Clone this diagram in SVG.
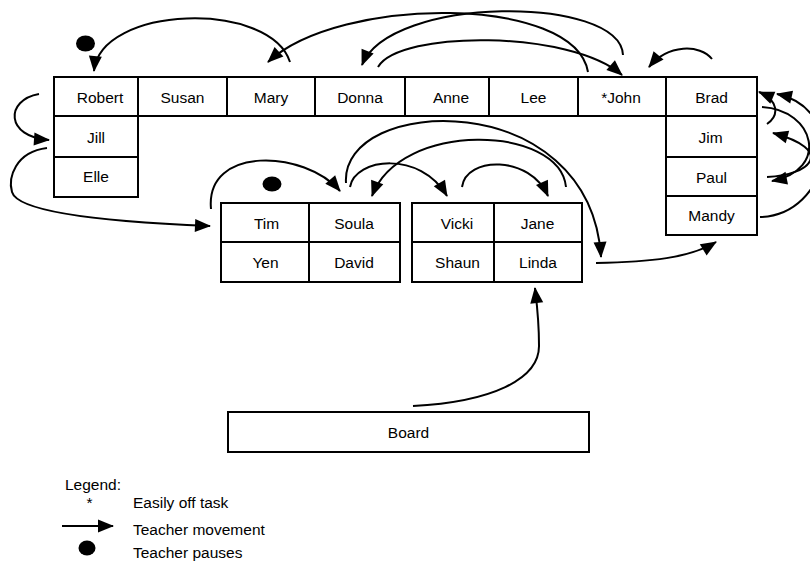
<svg xmlns="http://www.w3.org/2000/svg" width="810" height="565" viewBox="0 0 810 565">
<style>
.cell{fill:#fff;stroke:#000;stroke-width:2}
.t{font-family:"Liberation Sans",Arial,sans-serif;font-size:15.5px;fill:#000;text-anchor:middle}
.tl{font-family:"Liberation Sans",Arial,sans-serif;font-size:15.5px;fill:#000}
.c{fill:none;stroke:#000;stroke-width:2;marker-end:url(#ah)}
.dot{fill:#000}
</style>
<defs>
<marker id="ah" markerUnits="userSpaceOnUse" markerWidth="16" markerHeight="13" refX="15" refY="6.5" orient="auto" overflow="visible">
<path d="M0,0 L16,6.5 L0,13 z" fill="#000"/>
</marker>
</defs>
<rect width="810" height="565" fill="#fff"/>
<g id="robert"><rect class="cell" x="54" y="77" width="84" height="39"/><text class="t" x="100" y="103">Robert</text></g>
<g id="susan"><rect class="cell" x="138" y="77" width="89" height="39"/><text class="t" x="182.5" y="103">Susan</text></g>
<g id="mary"><rect class="cell" x="227" y="77" width="88" height="39"/><text class="t" x="271" y="103">Mary</text></g>
<g id="donna"><rect class="cell" x="315" y="77" width="90" height="39"/><text class="t" x="360" y="103">Donna</text></g>
<g id="anne"><rect class="cell" x="405" y="77" width="84" height="39"/><text class="t" x="451" y="103">Anne</text></g>
<g id="lee"><rect class="cell" x="489" y="77" width="89" height="39"/><text class="t" x="533.5" y="103">Lee</text></g>
<g id="john"><rect class="cell" x="578" y="77" width="88" height="39"/><text class="t" x="621" y="103">*John</text></g>
<g id="brad"><rect class="cell" x="666" y="77" width="91" height="39"/><text class="t" x="711.5" y="103">Brad</text></g>
<g id="jill"><rect class="cell" x="54" y="116" width="84" height="41"/><text class="t" x="96" y="143">Jill</text></g>
<g id="elle"><rect class="cell" x="54" y="157" width="84" height="40"/><text class="t" x="96" y="182">Elle</text></g>
<g id="jim"><rect class="cell" x="666" y="116" width="91" height="41"/><text class="t" x="710.5" y="143">Jim</text></g>
<g id="paul"><rect class="cell" x="666" y="157" width="91" height="39"/><text class="t" x="711.5" y="183">Paul</text></g>
<g id="mandy"><rect class="cell" x="666" y="196" width="91" height="39"/><text class="t" x="711.5" y="221">Mandy</text></g>
<g id="tim"><rect class="cell" x="221" y="203" width="88" height="39"/><text class="t" x="266.5" y="229">Tim</text></g>
<g id="soula"><rect class="cell" x="309" y="203" width="91" height="39"/><text class="t" x="354" y="229">Soula</text></g>
<g id="yen"><rect class="cell" x="221" y="242" width="88" height="40"/><text class="t" x="265.5" y="268">Yen</text></g>
<g id="david"><rect class="cell" x="309" y="242" width="91" height="40"/><text class="t" x="354" y="268">David</text></g>
<g id="vicki"><rect class="cell" x="412" y="203" width="82" height="39"/><text class="t" x="457" y="229">Vicki</text></g>
<g id="jane"><rect class="cell" x="494" y="203" width="88" height="39"/><text class="t" x="537.5" y="229">Jane</text></g>
<g id="shaun"><rect class="cell" x="412" y="242" width="82" height="40"/><text class="t" x="457.5" y="268">Shaun</text></g>
<g id="linda"><rect class="cell" x="494" y="242" width="88" height="40"/><text class="t" x="538" y="268">Linda</text></g>
<g id="board"><rect class="cell" x="228" y="412" width="361" height="40"/><text class="t" x="408.5" y="438">Board</text></g>
<g id="pauses">
<ellipse class="dot" cx="85.5" cy="43.5" rx="9.5" ry="8"/>
<ellipse class="dot" cx="272" cy="184" rx="9.5" ry="7.5"/>
</g>
<g id="connectors">
<path class="c" d="M290,62 C270,0 100,5 94,71"/>
<path class="c" d="M588,72 C575,-5 340,-5 268,62"/>
<path class="c" d="M623,55 C620,-5 390,-5 362,65"/>
<path class="c" d="M378,67 C400,30 570,30 622,75"/>
<path class="c" d="M712,59 C700,44 668,44 649,67"/>
<path class="c" d="M39,94 C5,100 5,137 49,140"/>
<path class="c" d="M47,148 C15,152 8,178 12,192 C16,206 60,220 210,226"/>
<path class="c" d="M211,209 C205,145 305,150 340,191"/>
<path class="c" d="M350,187 C355,158 420,150 447,196"/>
<path class="c" d="M462,187 C466,156 530,155 548,196"/>
<path class="c" d="M566,187 C560,125 400,120 372,196"/>
<path class="c" d="M346,183 C340,95 590,85 601,257"/>
<path class="c" d="M596,263 C650,262 690,258 716,242"/>
<path class="c" d="M413,406 C490,402 540,380 539,345 C539,320 537,305 535,288"/>
<path class="c" d="M767,124 C780,115 778,100 759,92"/>
<path class="c" d="M762,107 C815,110 830,170 772,181"/>
<path class="c" d="M767,177 C812,175 835,150 773,133"/>
<path class="c" d="M760,217 C830,215 850,110 777,94"/>
</g>
<g id="legend">
<text class="tl" x="65" y="490">Legend:</text>
<text class="t" x="89.5" y="508">*</text>
<text class="tl" x="133" y="508">Easily off task</text>
<path class="c" d="M62,526 L113,526"/>
<text class="tl" x="133" y="535">Teacher movement</text>
<ellipse class="dot" cx="87" cy="548" rx="8.5" ry="7.5"/>
<text class="tl" x="133" y="558">Teacher pauses</text>
</g>
</svg>
